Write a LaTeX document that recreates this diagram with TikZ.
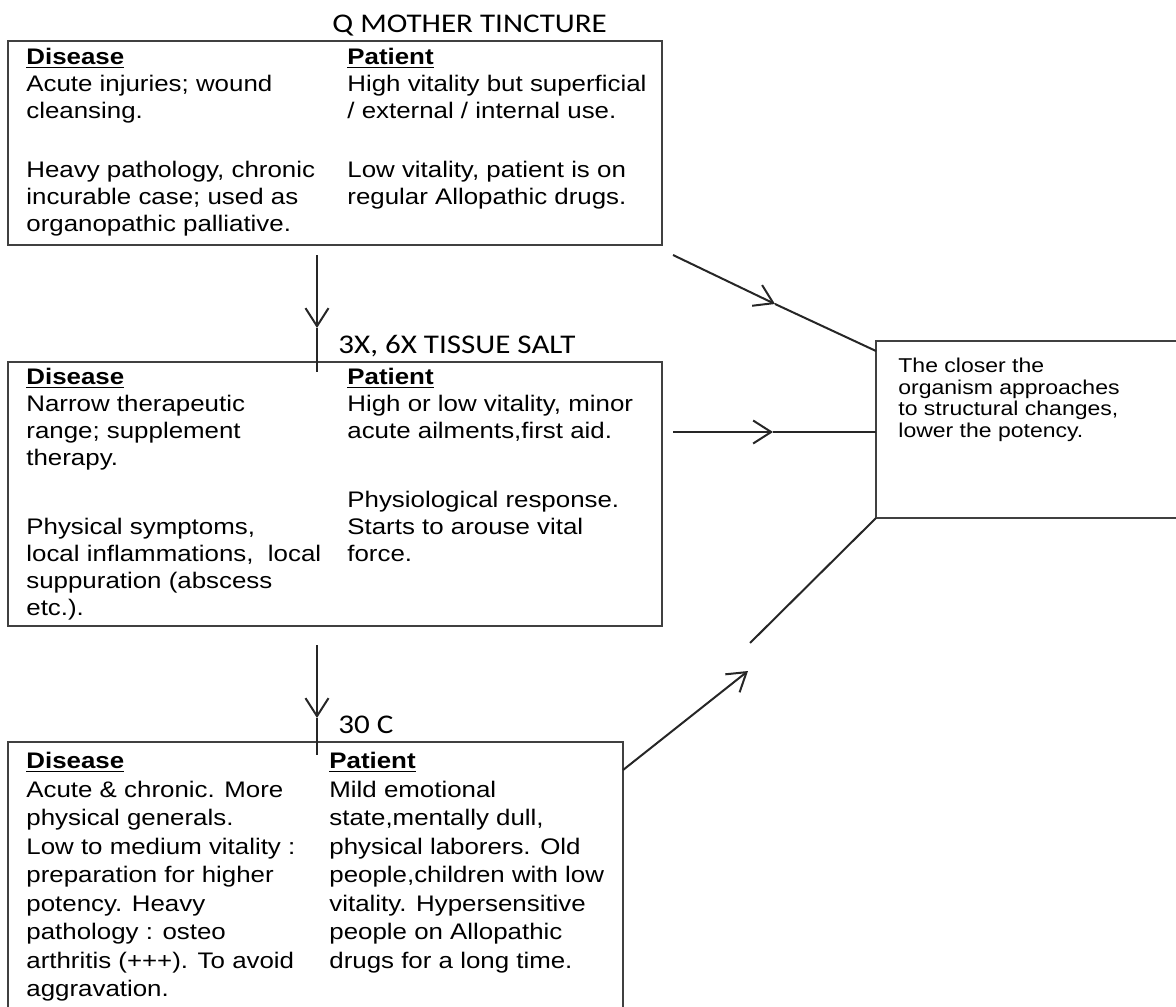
\documentclass[tikz,border=0pt]{standalone}
\usepackage{fontspec}
\setmainfont[FakeStretch=1.15]{Liberation Sans}
\newfontfamily\titlefont[FakeStretch=1.15]{Carlito}
\usetikzlibrary{arrows.meta,calc}
\tikzset{>={Straight Barb[length=9pt,width=11.5pt]}}
\tikzset{
  panel/.style={draw=black!75,line width=0.9pt,inner sep=0pt,outer sep=0pt,anchor=north west},
  coltext/.style={anchor=north west,inner sep=0pt,align=left,font=\fontsize{11.25}{13.5}\selectfont},
  widetext/.style={coltext,font=\fontsize{11.25}{14.25}\selectfont},
  notetext/.style={anchor=north west,inner sep=0pt,align=left,font=\fontsize{10}{10.75}\selectfont},
  stage/.style={anchor=base west,inner sep=0pt,font=\titlefont\fontsize{13.5}{16}\selectfont},
  flow/.style={line width=1pt,black!85}
}
\newcommand{\head}[1]{\underline{\textbf{#1}}}

\begin{document}
\begin{tikzpicture}[x=0.5pt,y=-0.5pt]
\useasboundingbox (0,0) rectangle (1176,1006);

%%% Q mother tincture
\node[stage] (qmt) at (332,33) {Q MOTHER TINCTURE};
\node[panel,minimum width=327pt,minimum height=102pt] (mt) at (8,41) {};
\node[coltext] (mtd) at (26,48) {\head{Disease}\\ Acute injuries; wound\\ cleansing.\\[16pt]
  Heavy pathology, chronic\\ incurable case; used as\\ organopathic palliative.};
\node[coltext] (mtp) at (347,48) {\head{Patient}\\ High vitality but superficial\\ / external / internal use.\\[16pt]
  Low vitality, patient is on\\ regular Allopathic drugs.};

%%% 3X, 6X tissue salt
\node[stage] (tsl) at (338,353) {3X, 6X TISSUE SALT};
\node[panel,minimum width=327pt,minimum height=132pt] (ts) at (8,362) {};
\node[coltext] (tsd) at (26,368) {\head{Disease}\\ Narrow therapeutic\\ range; supplement\\ therapy.\\[21pt]
  Physical symptoms,\\ local inflammations,~ local\\ suppuration (abscess\\ etc.).};
\node[coltext] (tsp) at (347,368) {\head{Patient}\\ High or low vitality, minor\\ acute ailments,first aid.\\[21pt]
  Physiological response.\\ Starts to arouse vital\\ force.};

%%% 30 C
\node[stage] (c30) at (338,733) {30 C};
\node[panel,minimum width=307.5pt,minimum height=136.5pt] (tc) at (8,742) {};
\node[widetext] (tcd) at (26,752) {\head{Disease}\\ Acute \& chronic. More\\ physical generals.\\ Low to medium vitality :\\
  preparation for higher\\ potency. Heavy\\ pathology : osteo\\ arthritis (+++). To avoid\\ aggravation.};
\node[widetext] (tcp) at (329,752) {\head{Patient}\\ Mild emotional\\ state,mentally dull,\\ physical laborers. Old\\
  people,children with low\\ vitality. Hypersensitive\\ people on Allopathic\\ drugs for a long time.};

%%% Potency note
\node[panel,minimum width=160pt,minimum height=88.5pt] (note) at (876,341) {};
\node[notetext] (notet) at (898,358) {The closer the\\ organism approaches\\ to structural changes,\\ lower the potency.};

%%% Down arrows
\coordinate (a1s) at (317,255); \coordinate (a1m) at (317,328); \coordinate (a1e) at (317,372);
\draw[flow,->] (a1s) -- (a1m); \draw[flow] (a1m) -- (a1e);
\coordinate (a2s) at (317,645); \coordinate (a2m) at (317,718); \coordinate (a2e) at (317,755);
\draw[flow,->] (a2s) -- (a2m); \draw[flow] (a2m) -- (a2e);

%%% Arrows to the note
\coordinate (b1s) at (673,255); \coordinate (b1m) at (775,304);
\draw[flow,->] (b1s) -- (b1m); \draw[flow] (b1m) -- ($(note.north west)+(0,10)$);
\coordinate (b2s) at (673,432); \coordinate (b2m) at (773,432);
\draw[flow,->] (b2s) -- (b2m); \draw[flow] (b2m) -- (b2m -| note.west);
\coordinate (b3m) at (748,671); \coordinate (b3r) at (750,643);
\draw[flow,->] ($(tc.north east)+(0,28)$) -- (b3m); \draw[flow] (b3r) -- (note.south west);

\end{tikzpicture}
\end{document}
